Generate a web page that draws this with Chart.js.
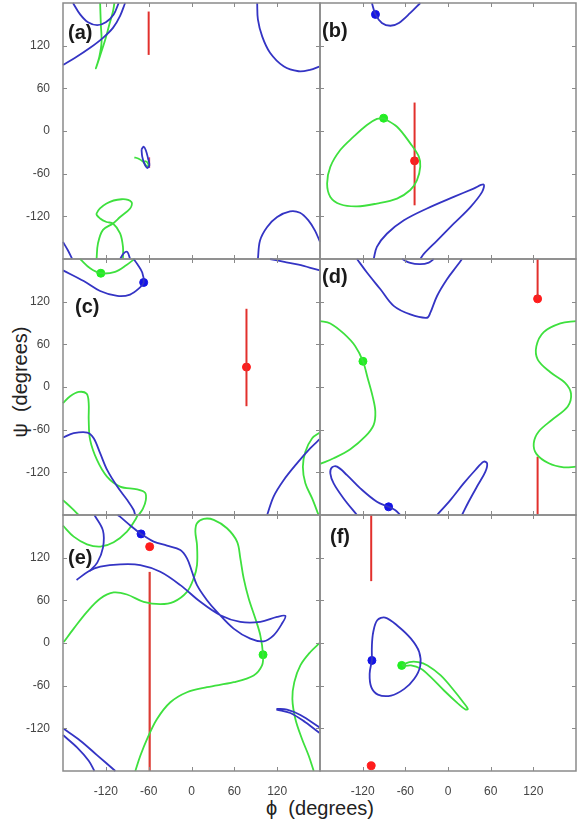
<!DOCTYPE html>
<html><head><meta charset="utf-8">
<script src="https://cdn.jsdelivr.net/npm/chart.js@4"></script>
<style>
body{margin:0;background:#fff;width:577px;height:823px;position:relative;overflow:hidden;font-family:Arial,"Liberation Sans",sans-serif}
canvas{position:absolute}
.ttl{position:absolute;font-size:20px;color:#222;white-space:nowrap;font-family:Arial,"Liberation Sans","DejaVu Sans",sans-serif}
#xt{left:320px;top:808px;transform:translate(-50%,-50%)}
#yt{left:20px;top:382px;transform:translate(-50%,-50%) rotate(-90deg)}
</style></head><body>
<div class="ttl" id="xt">ϕ&nbsp;&nbsp;(degrees)</div>
<div class="ttl" id="yt">ψ&nbsp;&nbsp;(degrees)</div>
<script>
// ---- tick values ----
const phiTicks = [-120, -60, 0, 60, 120];
const psiTicks = [-120, -60, 0, 60, 120];
const panelLabels = ['(a)', '(b)', '(c)', '(d)', '(e)', '(f)'];

// ---- panel (a) ----
const aBlueU = [[-166,180],[-156,164],[-145,153],[-132,149],[-120,153],[-109,164],[-102,180]];
const aBlueTop = [[-180,93],[-163,103],[-142,117],[-124,131],[-110,145],[-100,162],[-93,180]];
const aBlueRightTop = [[92,180],[93,157],[99,133],[110,110],[129,91],[150,84],[166,86],[180,91]];
const aBlueRightBottom = [[93,-180],[96,-154],[106,-135],[120,-121],[138,-113],[152,-115],[164,-126],[173,-140],[180,-156]];
const aBlueLeftBottom = [[-180,-156],[-173,-168],[-167,-180]];
const aBlueBump = [[-100,-180],[-95,-172],[-90,-170],[-86,-180]];
const aBlueLoop = [[-70,-26],[-67,-22],[-64,-27],[-61,-38],[-59,-48],[-62,-52],[-66,-46],[-69,-36],[-70,-26]];
const aGreenV = [[-128,180],[-127,150],[-126,125],[-129,105],[-134,88],[-128,106],[-121,128],[-115,150],[-110,168],[-108,180]];
const aGreenEight = [[-133,-180],[-131,-158],[-124,-139],[-110,-130],[-100,-121],[-86,-109],[-84,-100],[-98,-96],[-119,-102],[-133,-116],[-128,-123],[-119,-128],[-110,-130],[-100,-144],[-96,-163],[-96,-180]];
const aGreenSmall = [[-80,-37],[-74,-39],[-68,-43],[-63,-49],[-60,-50],[-62,-44],[-66,-42]];
const aRedLine = [[-60,107],[-60,168]];
const aRedSmall = [[-59,-37],[-59,-52]];

// ---- panel (b) ----
const bBlueTop = [[-107,180],[-102,164],[-93,152],[-81,148],[-69,152],[-53,166],[-39,180]];
const bBlueDot = [[-102,164]];
const bBlueBottom = [[-104.5,-180],[-100,-163],[-86,-144.5],[-62,-125.6],[-29.5,-109],[8,-92.7],[36,-81],[50,-75.3],[48,-85.6],[31.5,-107],[8,-130.4],[-15.4,-154],[-34,-172.7],[-39,-180]];
const bGreenLoop = [[-90.5,18],[-71.7,6],[-53,-17.4],[-41,-36],[-39,-50],[-43.6,-69],[-53,-83],[-71.7,-95],[-100,-102],[-128,-106],[-151.5,-103],[-165.5,-92.7],[-170,-74],[-165.5,-50.4],[-151.5,-26.8],[-132.7,-8],[-114,8.5],[-100,17],[-90.5,18]];
const bGreenDot = [[-90.5,18]];
const bRedLine = [[-47,40],[-47,-104.5]];
const bRedDot = [[-47,-42]];

// ---- panel (c) ----
const cGreenTop = [[-156,180],[-142,167],[-127,160],[-107,162],[-91,171.6],[-80,180]];
const cGreenDot = [[-127,160]];
const cBlueTop = [[-180,164],[-151,149],[-128,135],[-104,128],[-86,130],[-72,140],[-67,147],[-69,161],[-76,173],[-81,180]];
const cBlueDot = [[-67,147]];
const cBlueTopRight = [[110,180],[130,176],[150,172],[176,165],[180,164]];
const cBlueBottomRight = [[106,-180],[115,-154],[129,-131],[148,-107],[166.5,-86],[180,-73]];
const cBlueLeft = [[-180,-71],[-165,-65],[-146,-64],[-137,-72],[-128,-93],[-118,-117],[-104,-140],[-90,-159],[-81,-173],[-79,-180]];
const cGreenLeft = [[-180,-22.6],[-170,-13],[-158,-7],[-147,-9.4],[-144,-22.6],[-144,-46],[-142,-74.4],[-132.4,-102.6],[-118.4,-126],[-100,-140],[-76,-144],[-65,-148.7],[-64,-159],[-68,-171],[-74,-180]];
const cGreenBottomLeft = [[-180,-159],[-167,-171],[-158,-180]];
const cGreenRight = [[180,-64],[169,-72],[159.5,-91],[156,-112],[159.5,-135.5],[169,-156.7],[178,-180]];
const cRedLine = [[77,110],[77,-27]];
const cRedDot = [[77,28]];

// ---- panel (d) ----
const dBlueTop = [[-128,180],[-114,161],[-95,137.4],[-76.4,114],[-53,102],[-29.5,97.4],[-24.8,104.5],[-15.4,128],[-1.4,151.5],[12.7,170.4],[19.7,180]];
const dBlueArc = [[-64.7,180],[-53,174.4],[-39,172.7],[-27,175],[-20,180]];
const dBlueBottomLeft = [[-128,-180],[-146.8,-156.7],[-160.8,-135.5],[-165.5,-121.4],[-163.2,-113],[-156,-112],[-142,-124],[-123.3,-142.6],[-100,-161.4],[-83.5,-168.5],[-74,-173.2],[-67,-180]];
const dBlueDot = [[-83.5,-168.5]];
const dBlueBottomRight = [[-15.4,-180],[3.3,-159],[22,-135.5],[38.5,-116.7],[50,-105],[55,-107.3],[52.6,-119],[40.8,-140],[29,-161.4],[19.7,-180]];
const dGreenLeft = [[-180,92.7],[-165.5,89.4],[-146.8,75.3],[-130.4,57.4],[-119.6,36.2],[-113,12.7],[-106,-13.2],[-102.2,-34.4],[-104.5,-53.2],[-116.3,-69.6],[-137.4,-87.5],[-160.8,-100.2],[-180,-108.2]];
const dGreenDot = [[-119.6,36.2]];
const dGreenRight = [[180,92.7],[158,89.4],[134.6,77.2],[124.3,57.4],[126.2,38.6],[144,20.7],[165,5.6],[173,-9.4],[168.4,-27.3],[146.4,-46],[127.6,-62.6],[120.6,-79],[124.3,-94],[141.7,-107.3],[162.8,-113],[180,-112]];
const dRedLineTop = [[126,180],[126,124]];
const dRedDot = [[126,124]];
const dRedLineBottom = [[126,-98],[126,-180]];

// ---- panel (e) ----
const eBlueBranch = [[-136,180],[-124,158],[-124,134],[-132,113],[-143,101]];
const eBlueLong = [[-161,88.5],[-144,101],[-127.7,107.3],[-99.7,110.6],[-71.7,109.6],[-43.7,100.2],[-15.6,81.4],[12.4,57.9],[40.4,39.1],[68.4,29.6],[96.4,29.6],[119.8,36.7],[131.5,38.1],[126.8,27.3],[115,10.8],[101,2.4],[82.4,6.1],[59,20.2],[35.7,43.8],[21.7,60.2],[7.7,81.4],[0.7,100.2],[-6.3,119],[-15.6,130.8],[-34.3,137],[-53,142.6],[-70.7,153.4],[-85.7,165.2],[-100.6,178],[-103.4,180]];
const eBlueDot = [[-70.7,153.4]];
const eBlueBL1 = [[-180,-120],[-155.7,-137.4],[-132.4,-157.6],[-106.7,-180]];
const eBlueBL2 = [[-180,-129.4],[-160.4,-146.8],[-144,-165.6],[-136,-180]];
const eBlueR1 = [[119,-92.7],[133.8,-93.6],[152.5,-101.2],[180,-119]];
const eBlueR2 = [[119,-93.6],[138.5,-98.4],[159.5,-111.5],[180,-127]];
const eGreenMain = [[-179,1.4],[-165,20.2],[-146.4,43.8],[-127.7,62.6],[-109,71.1],[-90.4,68.2],[-67,57.9],[-43.7,54.6],[-25,57.9],[-6.3,72],[3,90.8],[7.7,109.6],[7.7,137.9],[5.4,156.7],[7.7,168.5],[17.1,174.6],[31.1,173.2],[49.7,161.4],[63.8,142.6],[68.4,119.1],[73.1,90.8],[80.1,62.6],[89.4,34.4],[96.4,10.8],[100.2,-16.5],[98.8,-31.5],[87.1,-45.6],[59.1,-55.1],[21.7,-62.1],[-6.3,-69.2],[-29.6,-83.3],[-48.3,-106.8],[-62.3,-135.1],[-71.7,-158.6],[-78.7,-180]];
const eGreenDot = [[100.2,-16.5]];
const eGreenTopLeft = [[-180,165],[-165,149.6],[-146.4,138.8],[-127.7,135.5],[-109,141.6],[-90.4,156.7],[-78.7,173.2],[-75.4,180]];
const eGreenRight = [[180,0.5],[166.5,-12.7],[152.5,-31.5],[144,-55],[141.3,-78.6],[145.5,-106.8],[154.8,-135],[164.2,-158.6],[171.2,-180]];
const eRedLine = [[-58.6,100],[-58.6,-180]];
const eRedDot = [[-58.6,135.5]];

// ---- panel (f) ----
const fBlueLoop = [[-107,-24.5],[-110.2,-43.3],[-107.9,-62.1],[-98.6,-72.5],[-80,-73.9],[-61.4,-64.5],[-47.4,-50.4],[-39.1,-32.5],[-40.5,-12.7],[-52.1,6.1],[-70.7,24],[-88.4,35.8],[-99.5,32],[-105.1,15.5],[-107,-3.3],[-107,-24.5]];
const fBlueDot = [[-107,-24.5]];
const fGreenTail = [[-65.1,-31.5],[-54.4,-26.8],[-41.9,-26.8],[-28.8,-31.5],[-10.2,-45.6],[8.4,-66.8],[21.4,-83.3],[27.9,-92.7],[24.6,-93.6],[13,-84.2],[-5.6,-66.8],[-24.2,-48],[-38.1,-36.2],[-52.1,-31.5],[-63.7,-32.9]];
const fGreenDot = [[-65.1,-31.5]];
const fRedLine = [[-108,180],[-108,87]];
const fRedDot = [[-108,-172.7]];

// ---- styling ----
const BLUE = '#3434c4', GREEN = '#3ee03e', RED = '#e2302c';
const BLUE_DOT = '#1414e6', GREEN_DOT = '#22ee22', RED_DOT = '#ff1c1c';

const xy = a => a.map(p => ({x: p[0], y: p[1]}));
const line = (arr, color, w) => ({data: xy(arr), borderColor: color, borderWidth: w || 1.8, pointRadius: 0, showLine: true, tension: 0.35, fill: false, clip: 1});
const dot = (arr, color, r) => ({data: xy(arr), backgroundColor: color, borderColor: color, pointRadius: r || 4, showLine: false, clip: 4});

const panels = [
  {col:0,row:0,lab:{dx:5,cy:30}, ds:[
    line(aBlueU,BLUE),line(aBlueTop,BLUE),line(aBlueRightTop,BLUE),line(aBlueRightBottom,BLUE),line(aBlueLeftBottom,BLUE),line(aBlueBump,BLUE),line(aBlueLoop,BLUE),
    line(aGreenV,GREEN),line(aGreenEight,GREEN),line(aGreenSmall,GREEN),
    line(aRedLine,RED,2),line(aRedSmall,'#e04060',1.5)]},
  {col:1,row:0,lab:{dx:2,cy:28}, ds:[
    line(bBlueTop,BLUE),line(bBlueBottom,BLUE),line(bGreenLoop,GREEN),line(bRedLine,RED,2),
    dot(bBlueDot,BLUE_DOT),dot(bGreenDot,GREEN_DOT),dot(bRedDot,RED_DOT)]},
  {col:0,row:1,lab:{dx:12,cy:48}, ds:[
    line(cBlueTop,BLUE),line(cBlueTopRight,BLUE),line(cBlueBottomRight,BLUE),line(cBlueLeft,BLUE),
    line(cGreenTop,GREEN),line(cGreenLeft,GREEN),line(cGreenBottomLeft,GREEN),line(cGreenRight,GREEN),
    line(cRedLine,RED,2),dot(cGreenDot,GREEN_DOT),dot(cBlueDot,BLUE_DOT),dot(cRedDot,RED_DOT)]},
  {col:1,row:1,lab:{dx:2,cy:18}, ds:[
    line(dBlueTop,BLUE),line(dBlueArc,BLUE),line(dBlueBottomLeft,BLUE),line(dBlueBottomRight,BLUE),
    line(dGreenLeft,GREEN),line(dGreenRight,GREEN),line(dRedLineTop,RED,2),line(dRedLineBottom,RED,2),
    dot(dBlueDot,BLUE_DOT),dot(dGreenDot,GREEN_DOT),dot(dRedDot,RED_DOT)]},
  {col:0,row:2,lab:{dx:5,cy:43}, ds:[
    line(eBlueBranch,BLUE),line(eBlueLong,BLUE),line(eBlueBL1,BLUE),line(eBlueBL2,BLUE),line(eBlueR1,BLUE),line(eBlueR2,BLUE),
    line(eGreenMain,GREEN),line(eGreenTopLeft,GREEN),line(eGreenRight,GREEN),line(eRedLine,'#dc3c34',2.2),
    dot(eBlueDot,BLUE_DOT),dot(eRedDot,RED_DOT),dot(eGreenDot,GREEN_DOT)]},
  {col:1,row:2,lab:{dx:10,cy:22}, ds:[
    line(fBlueLoop,BLUE),line(fGreenTail,GREEN),line(fRedLine,RED,2),
    dot(fBlueDot,BLUE_DOT),dot(fGreenDot,GREEN_DOT),dot(fRedDot,RED_DOT)]}
];

const L = [63, 320], T = [3, 259, 515], W = [257, 256], H = 256;

const framePlugin = {
  id: 'frame',
  afterDraw(chart, args, opts) {
    const {ctx, chartArea: a, scales} = chart;
    ctx.save();
    ctx.strokeStyle = '#8a8a8a';
    ctx.lineWidth = 1.5;
    ctx.strokeRect(a.left, a.top, a.right - a.left, a.bottom - a.top);
    ctx.lineWidth = 1;
    ctx.beginPath();
    phiTicks.forEach(v => {
      const px = Math.round(scales.x.getPixelForValue(v)) + 0.5;
      ctx.moveTo(px, a.bottom); ctx.lineTo(px, a.bottom - 4);
      ctx.moveTo(px, a.top); ctx.lineTo(px, a.top + 4);
    });
    psiTicks.forEach(v => {
      const py = Math.round(scales.y.getPixelForValue(v)) + 0.5;
      ctx.moveTo(a.left, py); ctx.lineTo(a.left + 4, py);
      ctx.moveTo(a.right, py); ctx.lineTo(a.right - 4, py);
    });
    ctx.stroke();
    ctx.fillStyle = '#1a1a1a';
    ctx.font = 'bold 20px Arial, "Liberation Sans", sans-serif';
    ctx.textBaseline = 'middle';
    ctx.textAlign = 'left';
    ctx.fillText(opts.text, a.left + opts.dx, a.top + opts.cy);
    ctx.restore();
  }
};

const zeroPad = s => { s.paddingTop = 0; s.paddingBottom = 0; s.paddingLeft = 0; s.paddingRight = 0; };

panels.forEach((p, i) => {
  const yW = p.col === 0 ? 63 : 2;
  const xH = p.row === 2 ? 30 : 2;
  const cw = yW + W[p.col] + 2, ch = 2 + H + xH;
  const cv = document.createElement('canvas');
  cv.width = cw; cv.height = ch;
  cv.style.left = (L[p.col] - yW) + 'px';
  cv.style.top = (T[p.row] - 2) + 'px';
  cv.style.width = cw + 'px'; cv.style.height = ch + 'px';
  document.body.appendChild(cv);
  new Chart(cv, {
    type: 'scatter',
    data: {datasets: p.ds},
    options: {
      responsive: false, animation: false, devicePixelRatio: 1,
      layout: {padding: {top: 2, right: 2, left: 0, bottom: 0}, autoPadding: false},
      plugins: {legend: {display: false}, tooltip: {enabled: false},
        frame: {text: panelLabels[i], dx: p.lab.dx, cy: p.lab.cy}},
      scales: {
        x: {type: 'linear', min: -180, max: 180,
          grid: {display: false}, border: {display: false},
          afterBuildTicks: s => { s.ticks = phiTicks.map(v => ({value: v})); },
          afterFit: s => { s.height = xH; zeroPad(s); },
          ticks: {display: p.row === 2, color: '#444', font: {size: 12, family: 'Arial, "Liberation Sans", sans-serif'}, padding: 5, maxRotation: 0, autoSkip: false}},
        y: {type: 'linear', min: -180, max: 180,
          grid: {display: false}, border: {display: false},
          afterBuildTicks: s => { s.ticks = psiTicks.map(v => ({value: v})); },
          afterFit: s => { s.width = yW; zeroPad(s); },
          ticks: {display: p.col === 0, color: '#444', font: {size: 12, family: 'Arial, "Liberation Sans", sans-serif'}, padding: 5, autoSkip: false}}
      }
    },
    plugins: [framePlugin]
  });
});
</script>
</body></html>
